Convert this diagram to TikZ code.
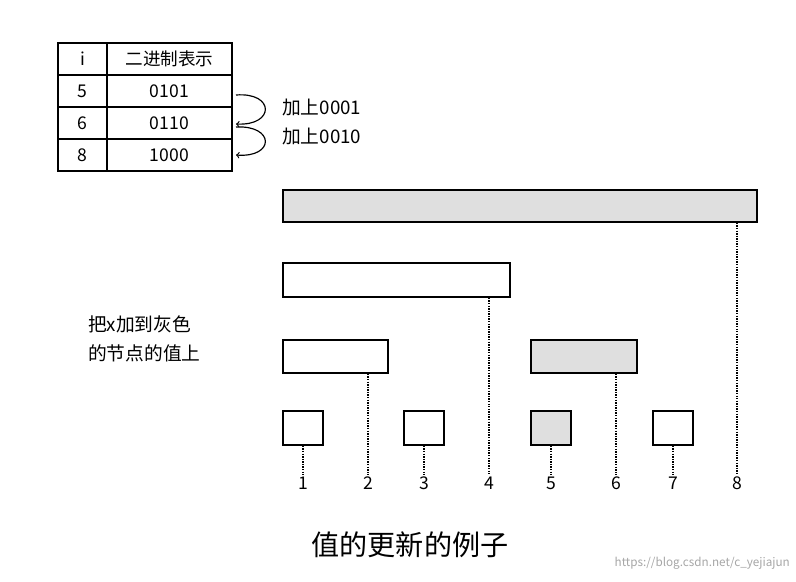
\documentclass[tikz,border=0pt]{standalone}
\usepackage{fontspec}
\setmainfont{Noto Sans CJK SC}
\begin{document}
\begin{tikzpicture}[x=0.3mm,y=-0.3mm,
  bar/.style={draw,line width=1.4pt},
  gbar/.style={bar,fill=gray!25},
  dl/.style={densely dotted,line width=1.2pt},
  cell/.style={font=\fontsize{15}{16}\selectfont},
  lab/.style={font=\fontsize{16}{18}\selectfont},
  num/.style={font=\fontsize{15}{16}\selectfont}]
\useasboundingbox (0,0) rectangle (796,581);
% table
\draw[line width=1.3pt] (58,43) rectangle (232,171);
\foreach \y in {75,107,139} \draw[line width=1.3pt] (58,\y) -- (232,\y);
\draw[line width=1pt] (107,43) -- (107,171);
\node[cell] (h1) at (82.5,59) {i};
\node[cell] (h2) at (169.5,59) {二进制表示};
\node[cell] (a1) at (82.5,91) {5};
\node[cell] (a2) at (169.5,91) {0101};
\node[cell] (b1) at (82.5,123) {6};
\node[cell] (b2) at (169.5,123) {0110};
\node[cell] (c1) at (82.5,155) {8};
\node[cell] (c2) at (169.5,155) {1000};
\coordinate (r5) at (236,95);
\coordinate (r6) at (236,124);
\coordinate (r6b) at (236,127);
\coordinate (r8) at (236,155);
\draw[->,line width=1pt] (r5) .. controls (275,92) and (275,126) .. (r6);
\draw[->,line width=1pt] (r6b) .. controls (275,125) and (275,158) .. (r8);
\node[lab,anchor=west] (l1) at (278,108) {加上0001};
\node[lab,anchor=west] (l2) at (278,137) {加上0010};
% bars
\node[gbar,minimum width=474*0.3mm,minimum height=32*0.3mm] (n8) at (520,206) {};
\node[bar,minimum width=227*0.3mm,minimum height=34*0.3mm] (n4) at (396.5,280) {};
\node[bar,minimum width=105*0.3mm,minimum height=33*0.3mm] (n2) at (335.5,356.5) {};
\node[gbar,minimum width=106*0.3mm,minimum height=33*0.3mm] (n6) at (584,356.5) {};
\foreach \n/\x/\f in {1/303/bar,3/424/bar,5/551/gbar,7/673/bar}
  \node[\f,minimum width=40*0.3mm,minimum height=34*0.3mm] (n\n) at (\x,428) {};
\foreach \n/\x in {1/303,2/368,3/424,4/489,5/551,6/616,7/673,8/737}{
  \node[num,inner sep=1pt] (t\n) at (\x,483) {\n};
}
\draw[dl] (n1.south) -- (t1.north);
\draw[dl] (n3.south) -- (t3.north);
\draw[dl] (n5.south) -- (t5.north);
\draw[dl] (n7.south) -- (t7.north);
\draw[dl] (n2.south -| t2) -- (t2.north);
\draw[dl] (n4.south -| t4) -- (t4.north);
\draw[dl] (n6.south -| t6) -- (t6.north);
\draw[dl] (n8.south -| t8) -- (t8.north);
\node[font=\fontsize{16}{25}\selectfont,anchor=west,align=left] (note) at (84,339) {把x加到灰色\\的节点的值上};
\node[font=\fontsize{24}{26}\selectfont] (cap) at (410,545) {值的更新的例子};
\node[font=\fontsize{10}{11}\selectfont,text=gray!70,anchor=east] (wm) at (794,563) {https://blog.csdn.net/c\_yejiajun};
\end{tikzpicture}
\end{document}
